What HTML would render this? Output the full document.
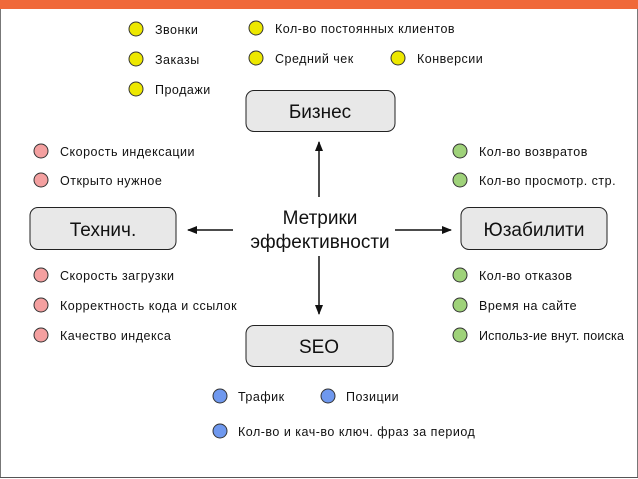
<!DOCTYPE html>
<html><head><meta charset="utf-8"><style>
html,body{margin:0;padding:0;background:#fff}
svg{display:block}
text{font-family:"Liberation Sans","DejaVu Sans",sans-serif;fill:#111}
.s{font-size:12.5px;letter-spacing:0.5px}
.b{font-size:19px}
</style></head><body>
<svg width="638" height="479" viewBox="0 0 638 479" xmlns="http://www.w3.org/2000/svg">
<defs><marker id="a" markerWidth="10" markerHeight="8" refX="9" refY="4" orient="auto" markerUnits="userSpaceOnUse"><path d="M0,0 L10,4 L0,8 z" fill="#111"/></marker></defs>
<rect x="0" y="0" width="638" height="9" fill="#f0693a"/>
<line x1="0.5" y1="9" x2="0.5" y2="478" stroke="#777"/>
<line x1="637.5" y1="9" x2="637.5" y2="478" stroke="#777"/>
<line x1="0" y1="477.5" x2="638" y2="477.5" stroke="#555"/>
<g stroke="#333" stroke-width="1" fill="#ede800">
<circle cx="136" cy="29" r="7"/><circle cx="136" cy="59" r="7"/><circle cx="136" cy="89" r="7"/>
<circle cx="256" cy="28" r="7"/><circle cx="256" cy="58" r="7"/><circle cx="398" cy="58" r="7"/>
</g>
<g stroke="#333" fill="#f4a0a0">
<circle cx="41" cy="151" r="7"/><circle cx="41" cy="180" r="7"/>
<circle cx="41" cy="275" r="7"/><circle cx="41" cy="305" r="7"/><circle cx="41" cy="335" r="7"/>
</g>
<g stroke="#333" fill="#9fd27a">
<circle cx="460" cy="151" r="7"/><circle cx="460" cy="180" r="7"/>
<circle cx="460" cy="275" r="7"/><circle cx="460" cy="305" r="7"/><circle cx="460" cy="335" r="7"/>
</g>
<g stroke="#333" fill="#6f98ee">
<circle cx="220" cy="396" r="7"/><circle cx="328" cy="396" r="7"/><circle cx="220" cy="431" r="7"/>
</g>
<g class="s">
<text x="155" y="34">Звонки</text><text x="155" y="64">Заказы</text><text x="155" y="94">Продажи</text>
<text x="275" y="33">Кол-во постоянных клиентов</text><text x="275" y="63">Средний чек</text><text x="417" y="63">Конверсии</text>
<text x="60" y="156">Скорость индексации</text><text x="60" y="185">Открыто нужное</text>
<text x="60" y="280">Скорость загрузки</text><text x="60" y="310">Корректность кода и ссылок</text><text x="60" y="340">Качество индекса</text>
<text x="479" y="156">Кол-во возвратов</text><text x="479" y="185">Кол-во просмотр. стр.</text>
<text x="479" y="280">Кол-во отказов</text><text x="479" y="310">Время на сайте</text><text x="479" y="340" letter-spacing="0.2">Использ-ие внут. поиска</text>
<text x="238" y="401">Трафик</text><text x="346" y="401">Позиции</text><text x="238" y="436">Кол-во и кач-во ключ. фраз за период</text>
</g>
<g fill="#e8e8e8" stroke="#222" stroke-width="1">
<rect x="246" y="90.5" width="149" height="41" rx="8"/>
<rect x="30" y="207.5" width="146" height="42" rx="8"/>
<rect x="461" y="207.5" width="146" height="42" rx="8"/>
<rect x="246" y="325.5" width="147" height="41" rx="8"/>
</g>
<g class="b" text-anchor="middle">
<text x="320" y="118">Бизнес</text>
<text x="103" y="236">Технич.</text>
<text x="534" y="236">Юзабилити</text>
<text x="319" y="353">SEO</text>
<text x="320" y="224">Метрики</text>
<text x="320" y="248">эффективности</text>
</g>
<g stroke="#111" stroke-width="1.5">
<line x1="319" y1="197" x2="319" y2="142" marker-end="url(#a)"/>
<line x1="319" y1="256" x2="319" y2="314" marker-end="url(#a)"/>
<line x1="233" y1="230" x2="188" y2="230" marker-end="url(#a)"/>
<line x1="395" y1="230" x2="451" y2="230" marker-end="url(#a)"/>
</g>
</svg>
</body></html>
